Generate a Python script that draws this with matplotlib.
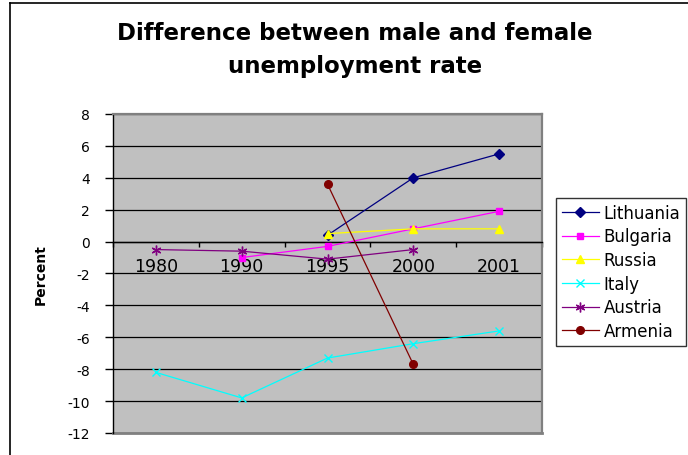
import numpy as np
import matplotlib
matplotlib.use("Agg")
import matplotlib.pyplot as plt
from matplotlib.lines import Line2D

plt.rcParams['font.family'] = ['DejaVu Sans']
plt.rcParams['axes.unicode_minus'] = False

# Male minus female unemployment rate, percentage points
years = ['1980', '1990', '1995', '2000', '2001']
lithuania = [np.nan, np.nan, 0.4, 4.0, 5.5]
bulgaria = [np.nan, -1.0, -0.3, 0.8, 1.9]
russia = [np.nan, np.nan, 0.5, 0.8, 0.8]
italy = [-8.2, -9.8, -7.3, -6.4, -5.6]
austria = [-0.5, -0.6, -1.1, -0.5, np.nan]
armenia = [np.nan, np.nan, 3.6, -7.7, np.nan]

series = [
    ('Lithuania', lithuania, '#000080', 'D', 5.0),
    ('Bulgaria', bulgaria, '#FF00FF', 's', 5.0),
    ('Russia', russia, '#FFFF00', '^', 6.0),
    ('Italy', italy, '#00FFFF', 'x', 6.0),
    ('Austria', austria, '#800080', (6, 2, 0), 7.0),
    ('Armenia', armenia, '#800000', 'o', 5.5),
]

fig = plt.figure(figsize=(6.88, 4.56), dpi=100)
W, H = 688, 456

# chart-area frame (left and top edges)
fig.add_artist(Line2D([10 / W, 10 / W], [0, 1 - 4 / H], transform=fig.transFigure,
                      color='black', lw=1.2))
fig.add_artist(Line2D([10 / W, 1], [1 - 4 / H, 1 - 4 / H], transform=fig.transFigure,
                      color='black', lw=1.2))

left, right, top, bottom = 113 / W, 542 / W, 1 - 115 / H, 1 - 434 / H
ax = fig.add_axes([left, bottom, right - left, top - bottom])
ax.set_facecolor('#C0C0C0')

x = np.arange(len(years))
for name, vals, color, marker, ms in series:
    ax.plot(x, vals, color=color, lw=0.9, marker=marker, markersize=ms,
            markerfacecolor=color, markeredgecolor=color, markeredgewidth=1.0,
            label=name, zorder=3)

ax.set_xlim(-0.5, len(years) - 0.5)
ax.set_ylim(-12, 8)
ax.set_yticks(np.arange(-12, 9, 2))
ax.yaxis.grid(True, color='black', lw=0.9)
ax.set_axisbelow(True)

# category axis crosses at zero
ax.spines['bottom'].set_position(('data', 0))
ax.spines['bottom'].set_color('black')
ax.spines['bottom'].set_linewidth(1.0)
ax.spines['left'].set_color('black')
ax.spines['left'].set_linewidth(1.0)
for side in ('top', 'right'):
    ax.spines[side].set_color('#808080')
    ax.spines[side].set_linewidth(1.6)
ax.axhline(-12, color='#808080', lw=2.0, clip_on=False, zorder=2)

ax.set_xticks(np.arange(-0.5, len(years)), labels=[''] * (len(years) + 1))
ax.set_xticks(x, labels=years, minor=True)
ax.tick_params(axis='x', which='major', direction='out', length=3.5, width=1.0)
ax.tick_params(axis='x', which='minor', length=0, pad=11, labelsize=12.5)
ax.tick_params(axis='y', direction='out', length=6, width=1.0, pad=10.5, labelsize=10)

ax.set_ylabel('Percent', fontsize=10, fontweight='bold', labelpad=14)

fig.text(355 / W, 1 - 50 / H, 'Difference between male and female\nunemployment rate',
         ha='center', va='center', fontsize=16.5, fontweight='bold', linespacing=1.55)

leg = fig.legend(loc='upper left', bbox_to_anchor=(556 / W, 1 - 199 / H),
                 borderaxespad=0, frameon=True, fancybox=False, fontsize=12,
                 handlelength=2.2, handletextpad=0.3, labelspacing=0.34,
                 borderpad=0.35, edgecolor='black')
leg.get_frame().set_linewidth(1.0)

fig.savefig('out.png', dpi=100)
